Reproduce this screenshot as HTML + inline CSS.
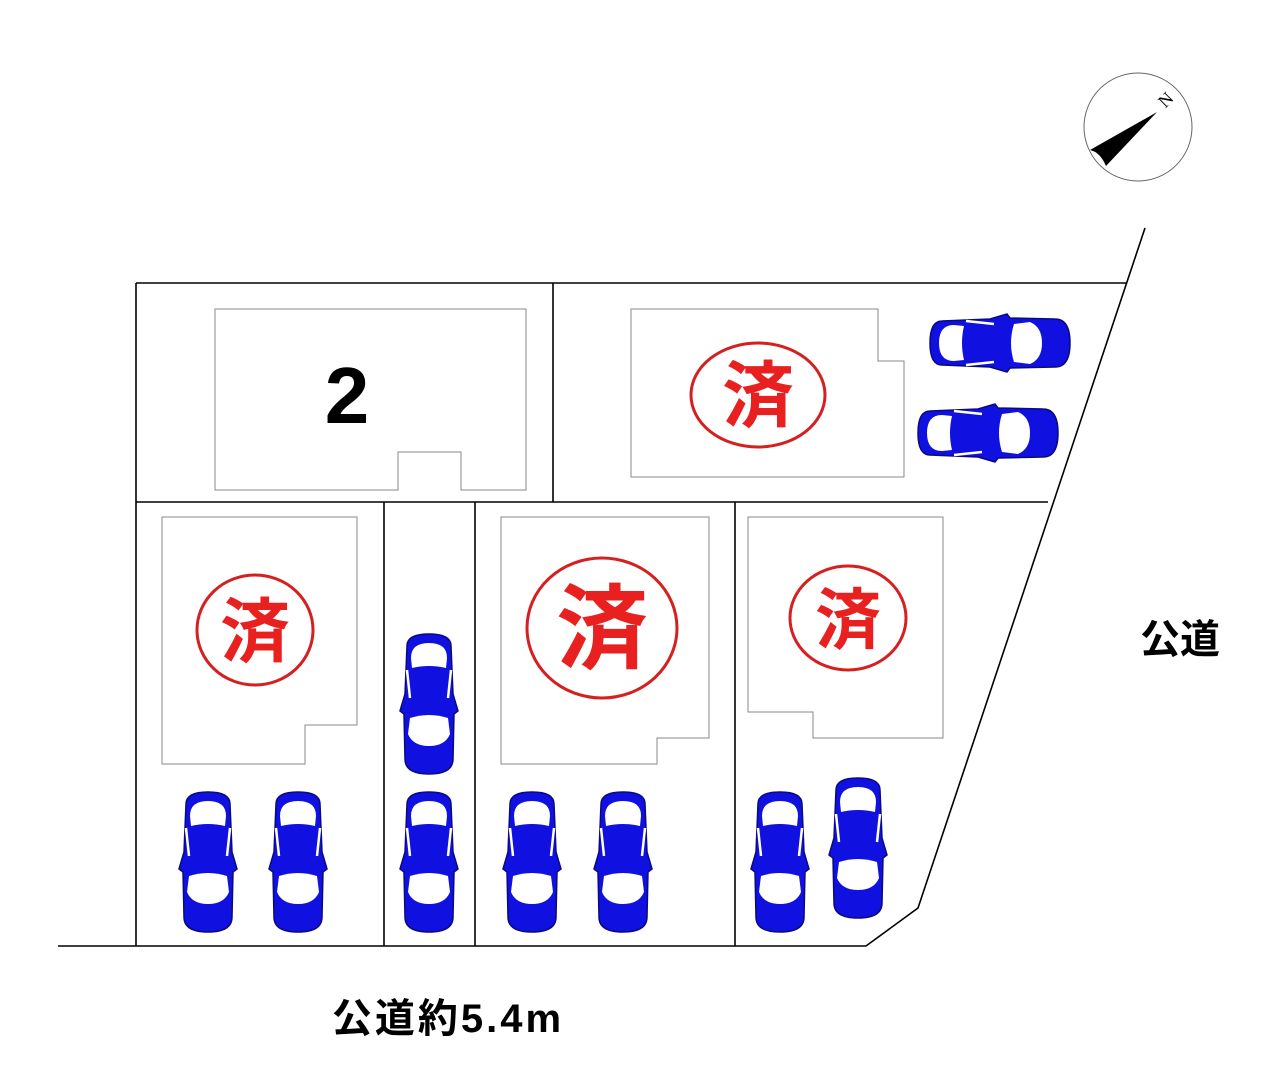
<!DOCTYPE html>
<html><head><meta charset="utf-8"><style>
body{margin:0;background:#fff}
svg{display:block}
</style></head><body>
<svg width="1280" height="1085" viewBox="0 0 1280 1085" xmlns="http://www.w3.org/2000/svg">
<defs>
<g id="car">
<path d="M8,12 Q8,0 30,0 Q52,0 52,12 L54,60 L59,77 L55,80 L54,125 Q54,140 30,140 Q6,140 6,125 L5,80 L1,77 L6,60 Z" fill="#1010e0" stroke="#0a0a80" stroke-width="1.5"/>
<path d="M12,24 Q12,9 30,9 Q48,9 48,24 L47,34 Q30,30 13,34 Z" fill="#fff"/>
<path d="M11,84 Q30,78 49,84 L51,100 Q46,112 30,112 Q14,112 9,100 Z" fill="#fff"/>
<path d="M8,36 L11,64 M52,36 L49,64" stroke="#fff" stroke-width="2.5"/>
</g>
</defs>
<g fill="none" stroke="#000" stroke-width="1.6">
<polyline points="58,946 866,946 918,908 1145,228"/>
<line x1="136" y1="283" x2="1127" y2="283"/>
<line x1="136" y1="283" x2="136" y2="946"/>
<line x1="553" y1="283" x2="553" y2="502"/>
<line x1="136" y1="502" x2="1048" y2="502"/>
<line x1="384" y1="502" x2="384" y2="946"/>
<line x1="475" y1="502" x2="475" y2="946"/>
<line x1="735" y1="502" x2="735" y2="946"/>
</g>
<g fill="none" stroke="#888" stroke-width="1">
<polygon points="215,309 526,309 526,490 461,490 461,452 398,452 398,490 215,490"/>
<polygon points="631,309 878,309 878,361 904,361 904,477 631,477"/>
<polygon points="162,517 357,517 357,725 305,725 305,764 162,764"/>
<polygon points="501,517 709,517 709,738 657,738 657,764 501,764"/>
<polygon points="748,517 943,517 943,738 813,738 813,712 748,712"/>
</g>
<circle cx="1138" cy="127" r="54" fill="#fff" stroke="#666" stroke-width="1"/>
<path d="M1157,112 L1090,150 Q1100,152 1106,166 Z" fill="#000"/>
<text x="1170" y="104" font-family="Liberation Serif,serif" font-size="18" transform="rotate(-45 1170 104)" text-anchor="middle">N</text>
<use href="#car" transform="translate(178,792)"/>
<use href="#car" transform="translate(268,792)"/>
<use href="#car" transform="translate(399,634)"/>
<use href="#car" transform="translate(399,792)"/>
<use href="#car" transform="translate(502,792)"/>
<use href="#car" transform="translate(593,792)"/>
<use href="#car" transform="translate(750,792)"/>
<use href="#car" transform="translate(828,778)"/>
<use href="#car" transform="translate(930,373) rotate(-90)"/>
<use href="#car" transform="translate(918,463) rotate(-90)"/>
<g fill="none" stroke="#d42020" stroke-width="3">
<ellipse cx="758" cy="395" rx="67" ry="52"/>
<ellipse cx="255" cy="630" rx="58" ry="55"/>
<ellipse cx="602" cy="628" rx="75" ry="70"/>
<ellipse cx="848" cy="618" rx="58" ry="52"/>
</g>
<g fill="#e82020" font-family="Liberation Sans,'Noto Sans CJK JP',sans-serif" font-weight="bold" text-anchor="middle">
<text x="758" y="421" font-size="72">済</text>
<text x="255" y="656" font-size="70">済</text>
<text x="602" y="661" font-size="92">済</text>
<text x="848" y="643" font-size="66">済</text>
</g>
<g font-family="Liberation Sans,'Noto Sans CJK JP',sans-serif" font-weight="bold" fill="#000" text-anchor="middle">
<text x="347" y="423" font-size="80">2</text>
<text x="1180" y="653" font-size="40">公道</text>
<text x="448" y="1032" font-size="40" letter-spacing="3">公道約5.4m</text>
</g>
</svg>
</body></html>
